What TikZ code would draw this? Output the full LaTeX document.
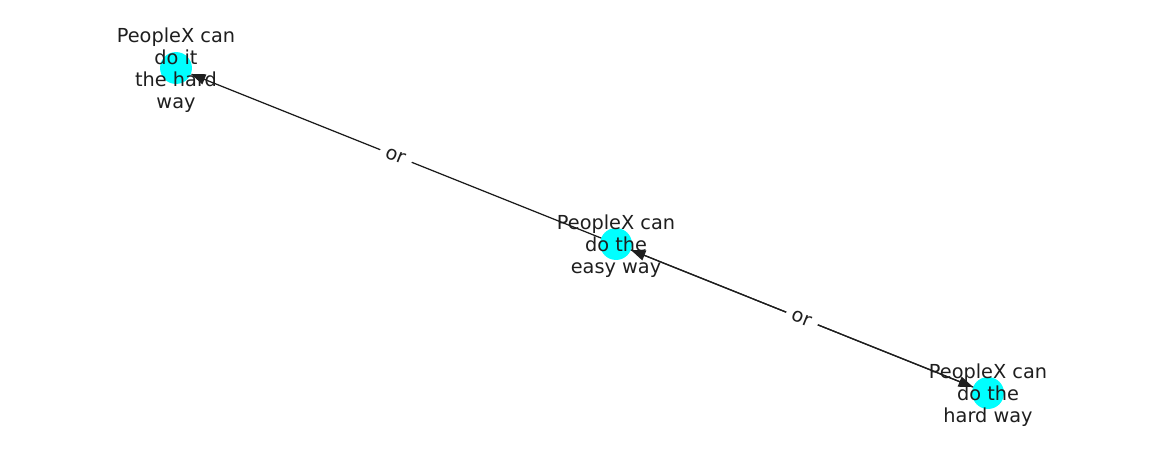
\documentclass[tikz,border=0pt]{standalone}
\usepackage{fontspec}
\setmainfont{DejaVu Sans}
\usetikzlibrary{arrows.meta}
\definecolor{nodecyan}{RGB}{0,255,255}
\definecolor{ink}{RGB}{30,30,30}
\tikzset{
  vert/.style={circle,fill=nodecyan,minimum size=23pt,inner sep=0pt,outer sep=0pt},
  txt/.style={align=center,text=ink,font=\fontsize{13.9}{15.8}\selectfont,inner sep=0pt,yshift=-1.5pt},
  arr/.style={-{Triangle[length=10.5pt,width=7.6pt]},line width=0.9pt,ink},
  lbl/.style={font=\fontsize{13.9}{15.8}\selectfont,text=ink,fill=white,inner xsep=5pt,inner ysep=4pt,sloped}
}
\begin{document}
\begin{tikzpicture}[x=0.72pt,y=-0.72pt]
\useasboundingbox (0,0) rectangle (1162,462);
\node[vert] (hard1) at (176,68) {};
\node[vert] (easy) at (616,244) {};
\node[vert] (hard2) at (988,393) {};
\draw[arr] (easy) -- node[lbl] {or} (hard1);
\draw[arr] (easy) -- (hard2);
\draw[arr] (hard2) -- node[lbl] {or} (easy);
\node[txt] (hard1T) at (hard1) {PeopleX can\\do it\\the hard\\way};
\node[txt] (easyT) at (easy) {PeopleX can\\do the\\easy way};
\node[txt] (hard2T) at (hard2) {PeopleX can\\do the\\hard way};
\end{tikzpicture}
\end{document}
